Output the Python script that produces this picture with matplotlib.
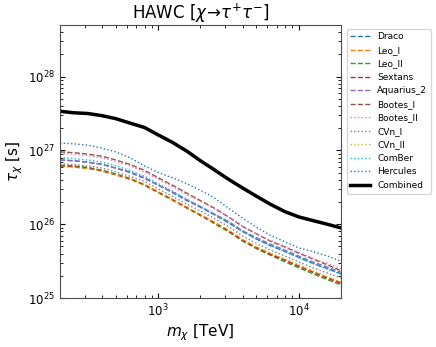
import numpy as np
import matplotlib
matplotlib.use('Agg')
import matplotlib.pyplot as plt

# masa en TeV
masa = [200, 250, 316, 400, 500, 630, 800, 1000, 1260, 1600, 2000,
        2500, 3160, 4000, 5000, 6300, 8000, 10000, 12600, 16000, 20000]

# log10(tau / s) para cada galaxia enana
draco    = [26.87,26.86,26.84,26.81,26.76,26.70,26.62,26.53,26.43,26.32,26.23,26.13,26.02,25.90,25.80,25.71,25.63,25.55,25.47,25.40,25.33]
leo_i    = [26.79,26.78,26.76,26.73,26.68,26.62,26.54,26.44,26.34,26.23,26.13,26.03,25.92,25.79,25.69,25.60,25.52,25.44,25.36,25.28,25.21]
leo_ii   = [26.80,26.79,26.77,26.73,26.68,26.62,26.53,26.43,26.33,26.22,26.12,26.01,25.90,25.77,25.67,25.58,25.49,25.41,25.33,25.25,25.18]
sextans  = [26.79,26.78,26.76,26.72,26.67,26.61,26.53,26.43,26.33,26.22,26.12,26.02,25.91,25.78,25.68,25.59,25.51,25.43,25.35,25.27,25.20]
aquarius = [26.87,26.86,26.84,26.81,26.76,26.71,26.63,26.53,26.44,26.33,26.24,26.14,26.04,25.91,25.82,25.73,25.65,25.57,25.49,25.42,25.35]
bootes_i = [26.98,26.97,26.95,26.92,26.87,26.81,26.73,26.63,26.53,26.42,26.32,26.22,26.10,25.97,25.87,25.77,25.69,25.61,25.53,25.45,25.37]
bootes_ii= [26.96,26.95,26.93,26.90,26.85,26.79,26.71,26.61,26.51,26.40,26.31,26.21,26.10,25.97,25.87,25.78,25.70,25.62,25.54,25.47,25.40]
cvn_i    = [26.82,26.81,26.79,26.76,26.71,26.65,26.58,26.48,26.38,26.27,26.18,26.08,25.97,25.84,25.74,25.65,25.57,25.49,25.41,25.34,25.27]
cvn_ii   = [26.78,26.77,26.75,26.72,26.67,26.61,26.53,26.43,26.33,26.22,26.12,26.02,25.92,25.79,25.69,25.61,25.53,25.45,25.37,25.29,25.22]
comber   = [26.90,26.89,26.87,26.84,26.79,26.73,26.65,26.55,26.45,26.34,26.24,26.14,26.03,25.90,25.80,25.71,25.63,25.55,25.47,25.39,25.32]
hercules = [27.10,27.09,27.07,27.03,26.98,26.90,26.79,26.70,26.63,26.55,26.46,26.36,26.22,26.08,25.96,25.85,25.76,25.68,25.63,25.57,25.50]
combined = [27.53,27.51,27.50,27.47,27.43,27.37,27.31,27.21,27.11,26.99,26.86,26.74,26.61,26.49,26.38,26.27,26.17,26.10,26.05,26.00,25.95]

nombres = ['Draco','Leo_I','Leo_II','Sextans','Aquarius_2','Bootes_I',
           'Bootes_II','CVn_I','CVn_II','ComBer','Hercules']
series = [draco,leo_i,leo_ii,sextans,aquarius,bootes_i,
          bootes_ii,cvn_i,cvn_ii,comber,hercules]
colores = ['C0','C1','C2','C3','C4','C5','C6','C7','C8','C9','C0']
estilos = ['--']*6 + [':']*5

fig = plt.figure(figsize=(4.36,3.47), dpi=100)
ax = fig.add_axes([0.1376, 0.141, 0.6444, 0.787])

for n, s, c, ls in zip(nombres, series, colores, estilos):
    ax.plot(masa, 10**np.array(s), ls=ls, color=c, lw=1.0, label=n)
ax.plot(masa, 10**np.array(combined), color='k', lw=2.5, label='Combined')

ax.set_xscale('log')
ax.set_yscale('log')
ax.set_xlim(200, 20000)
ax.set_ylim(1e25, 5e28)
ax.set_title(r'HAWC [$\chi\!\rightarrow\!\tau^{+}\tau^{-}$]', fontsize=12, pad=4)
ax.set_xlabel(r'$m_\chi$ [TeV]', fontsize=11, labelpad=2)
ax.set_ylabel(r'$\tau_\chi$ [s]', fontsize=11, labelpad=2)
ax.tick_params(which='both', direction='in', top=True, right=True, labelsize=8.5)
for sp in ax.spines.values():
    sp.set_color('0.3')

fig.legend(loc='upper left', bbox_to_anchor=(0.789, 0.925), fontsize=6.5,
           handlelength=2.2, borderaxespad=0.3)

plt.savefig('out.png', dpi=100)
